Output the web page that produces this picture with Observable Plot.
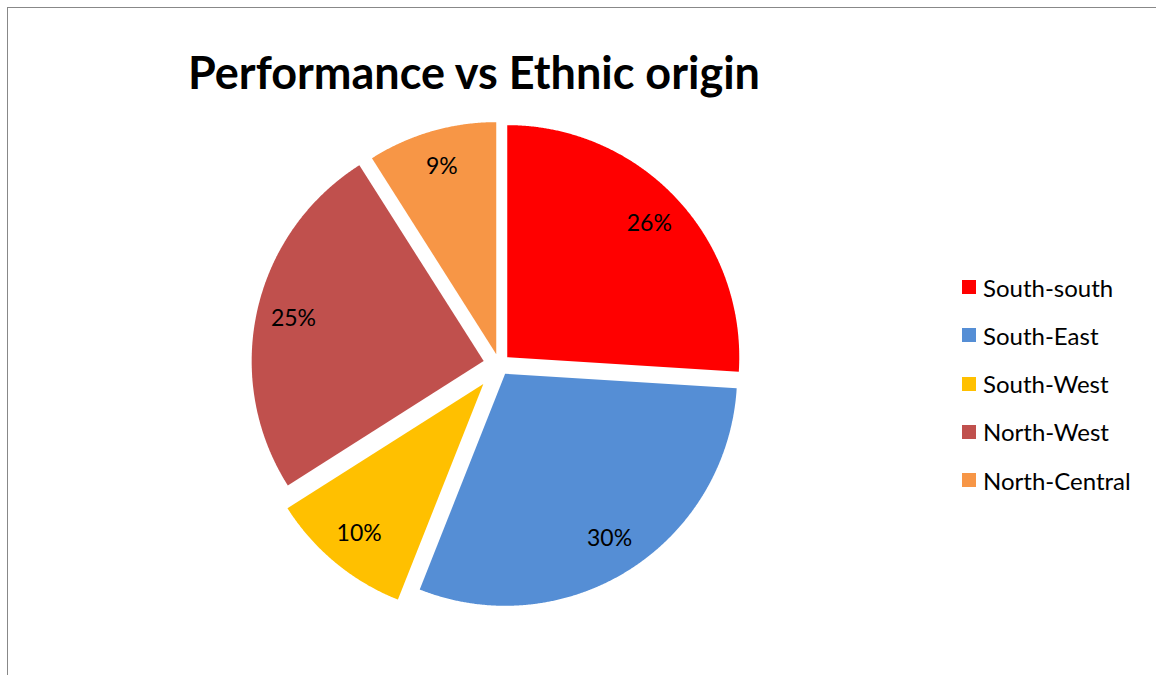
<!DOCTYPE html>
<html><head><meta charset="utf-8">
<script src="https://cdn.jsdelivr.net/npm/d3@7"></script>
<script src="https://cdn.jsdelivr.net/npm/@observablehq/plot@0.6"></script>
<style>
body{margin:0;background:#fff;font-family:Lato,sans-serif;}
#wrap{position:relative;width:1156px;height:675px;overflow:hidden;background:#fff;}
#frame{position:absolute;left:7px;top:7px;width:1300px;height:800px;border-left:1.5px solid #888;border-top:1.5px solid #888;}
#title{position:absolute;left:0;width:948px;top:50px;text-align:center;font-family:Lato;font-weight:bold;font-size:45px;line-height:1;color:#000;}
#chart{position:absolute;left:0;top:0;}
#legend{position:absolute;left:962px;top:263px;}
.row{height:48.25px;display:flex;align-items:center;font-family:Lato;font-size:24px;color:#000;}
.sw{width:14px;height:14px;margin-right:7px;flex:none;}
</style>
</head><body>
<div id="wrap">
  <div id="frame"></div>
  <div id="chart"></div>
  <div id="title">Performance vs Ethnic origin</div>
  <div id="legend"></div>
</div>
<script>
// ---- data ----
const categories = ["South-south", "South-East", "South-West", "North-West", "North-Central"];
const values = [26, 30, 10, 25, 9];
const labels = ["26%", "30%", "10%", "25%", "9%"];
// ---- styles ----
const palette = ["#FF0000", "#558ED5", "#FFC000", "#C0504D", "#F79646"];
const explode = [0.047, 0.047, 0.108, 0.069, 0.047]; // fraction of radius

const W = 940, H = 675, cx = 498.8, cy = 364.1, R = 232;
const labelPos = 0.84;

const arcs = d3.pie().sort(null).value(d => d)(values);
const slicePts = [];
const labelRows = [];
arcs.forEach((a, i) => {
  const mid = (a.startAngle + a.endAngle) / 2;
  const ox = explode[i] * Math.sin(mid), oy = explode[i] * Math.cos(mid);
  const name = categories[i];
  slicePts.push({name, x: ox, y: oy});
  const n = Math.max(8, Math.ceil((a.endAngle - a.startAngle) / (Math.PI / 720)));
  for (let k = 0; k <= n; k++) {
    const t = a.startAngle + (a.endAngle - a.startAngle) * k / n;
    slicePts.push({name, x: ox + Math.sin(t), y: oy + Math.cos(t)});
  }
  slicePts.push({name, x: ox, y: oy});
  labelRows.push({name, text: labels[i], x: ox + labelPos * Math.sin(mid), y: oy + labelPos * Math.cos(mid)});
});

const plot = Plot.plot({
  width: W, height: H,
  marginTop: 0, marginRight: 0, marginBottom: 0, marginLeft: 0,
  x: {domain: [-cx / R, (W - cx) / R], axis: null},
  y: {domain: [-(H - cy) / R, cy / R], axis: null},
  color: {domain: categories, range: palette},
  style: {fontFamily: "Lato", background: "transparent", overflow: "visible"},
  marks: [
    Plot.line(slicePts, {x: "x", y: "y", z: "name", fill: "name", stroke: "none", curve: "linear"}),
    Plot.text(labelRows, {x: "x", y: "y", text: "text", fontSize: 23, fill: "#000"})
  ]
});
document.getElementById("chart").appendChild(plot);

const legend = document.getElementById("legend");
categories.forEach((c, i) => {
  const row = document.createElement("div");
  row.className = "row";
  const sw = document.createElement("span");
  sw.className = "sw";
  sw.style.background = palette[i];
  const tx = document.createElement("span");
  tx.textContent = c;
  row.appendChild(sw); row.appendChild(tx);
  legend.appendChild(row);
});
</script>
</body></html>
